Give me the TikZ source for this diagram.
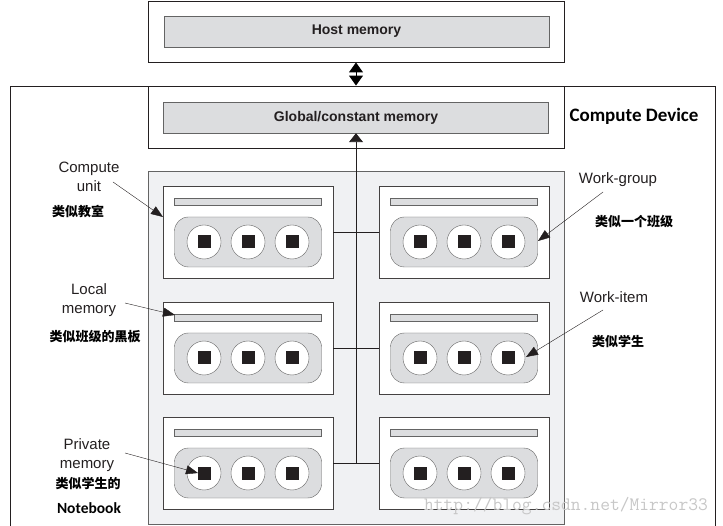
\documentclass[tikz,border=0pt]{standalone}
\usepackage{fontspec}
\setmainfont{Liberation Sans}
\newfontfamily\cjk{Noto Sans CJK SC}
\newfontfamily\calib{Carlito}
\usetikzlibrary{arrows.meta}

\definecolor{barfill}{RGB}{220,221,223}
\definecolor{panelfill}{RGB}{240,241,243}
\definecolor{edgegray}{RGB}{100,100,100}
\definecolor{ink}{RGB}{35,31,32}

\tikzset{
  membar/.style={draw=edgegray, fill=barfill, inner sep=0pt},
  cubox/.style={draw=ink!85, fill=white, line width=0.9pt, minimum width=170pt, minimum height=92pt, inner sep=0pt},
  lanes/.style={draw=edgegray, fill=barfill, rounded corners=14pt, minimum width=147pt, minimum height=50pt, inner sep=0pt},
  wi/.style={circle, draw=edgegray, fill=white, minimum size=34pt, inner sep=0pt},
  pm/.style={fill=ink, minimum size=13pt, inner sep=0pt},
  lbl/.style={font=\fontsize{15}{19}\selectfont, align=center, text=ink},
  zh/.style={font=\cjk\bfseries\fontsize{13}{16}\selectfont},
  pointer/.style={-{Triangle[width=9pt,length=12pt]}, ink}
}

\begin{document}
\begin{tikzpicture}[x=1pt, y=-1pt]
\useasboundingbox (0,0) rectangle (723,526);

% host
\node [draw=ink, line width=0.9pt, fill=white, minimum width=416pt, minimum height=61pt] (hostbox) at (356,31.5) {};
\node [membar, minimum width=385pt, minimum height=31pt, font=\bfseries\fontsize{14}{16}\selectfont, text=ink] (host) at (356.5,31.5) {Host memory};

% device
\draw [ink, line width=0.9pt] (10,530) -- (10,86) -- (715,86) -- (715,530);
\node [draw=ink, line width=0.9pt, fill=white, minimum width=416pt, minimum height=62pt] (globbox) at (356,117) {};
\node [membar, minimum width=385pt, minimum height=31pt, font=\bfseries\fontsize{14}{16}\selectfont, text=ink] (glob) at (356,117.5) {Global/constant memory};
\node [font=\calib\bfseries\fontsize{19}{22}\selectfont] (devlbl) at (634,116) {Compute Device};

\draw [{Triangle[width=14pt,length=10pt]}-{Triangle[width=14pt,length=10pt]}, line width=1pt] (hostbox.south) -- (globbox.north);

\node [draw=edgegray, fill=panelfill, minimum width=416pt, minimum height=353pt] (panel) at (356,347.5) {};

\foreach \r/\y in {1/232, 2/348, 3/463} {
  \foreach \c/\x in {1/248, 2/464} {
    \node [cubox] (cu\r\c) at (\x,\y) {};
    \node [membar, minimum width=147pt, minimum height=7pt] (lm\r\c) at (\x,\y-30.5) {};
    \node [lanes] (pe\r\c) at (\x,\y+10) {};
    \foreach \k/\dx in {1/-44, 2/0, 3/44} {
      \node [wi] (wi\r\c\k) at (\x+\dx,\y+10) {};
      \node [pm] at (wi\r\c\k) {};
    }
  }
  \draw [ink] (cu\r1.east) -- (cu\r2.west);
}

\coordinate (bus) at (356,463);
\draw [-{Triangle[width=14pt,length=9pt]}, ink, line width=0.9pt] (bus) -- (glob.south);

% labels on the left
\node [lbl] (culbl) at (89,176.5) {Compute\\unit};
\node [zh] (cuzh) at (78,211) {类似教室};
\coordinate (cutail) at (113,182); \coordinate (cutip) at (163,217);
\draw [pointer] (cutail) -- (cutip);

\node [lbl] (lmlbl) at (89,300) {Local\\memory};
\node [zh] (lmzh) at (95,337) {类似班级的黑板};
\coordinate (lmtail) at (125,303); \coordinate (lmtip) at (175,315);
\draw [pointer] (lmtail) -- (lmtip);

\node [lbl] (pmlbl) at (87,455.5) {Private\\memory};
\node [zh] (pmzh) at (88,483) {类似学生的};
\node [font=\calib\bfseries\fontsize{15.5}{18}\selectfont] (pmnote) at (89,508) {Notebook};
\coordinate (pmtail) at (125,453); \coordinate (pmtip) at (198,473);
\draw [pointer] (pmtail) -- (pmtip);

% labels on the right
\node [lbl] (wglbl) at (618,180) {Work-group};
\node [zh] (wgzh) at (634,222) {类似一个班级};
\coordinate (wgtail) at (603,192); \coordinate (wgtip) at (538,241);
\draw [pointer] (wgtail) -- (wgtip);

\node [lbl] (wilbl) at (614,297) {Work-item};
\node [zh] (wizh) at (618,341) {类似学生};
\coordinate (witail) at (603,310); \coordinate (witip) at (526,357);
\draw [pointer] (witail) -- (witip);

\node [font=\ttfamily\fontsize{19}{19}\selectfont, text=black!22] (mark) at (566,506) {http://blog.csdn.net/Mirror33};

\end{tikzpicture}
\end{document}
